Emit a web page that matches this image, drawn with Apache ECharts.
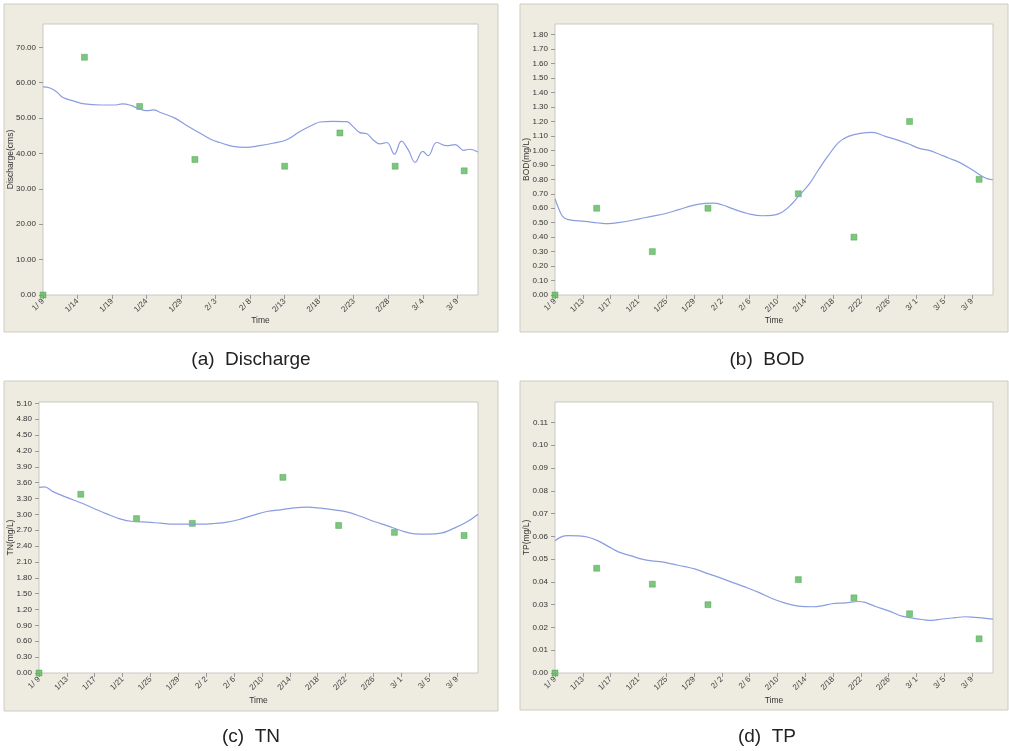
<!DOCTYPE html>
<html>
<head>
<meta charset="utf-8">
<script src="https://cdn.jsdelivr.net/npm/echarts@6/dist/echarts.min.js"></script>
<style>
  html, body { margin: 0; padding: 0; background: #ffffff; }
  #chart { width: 1009px; height: 751px; }
</style>
</head>
<body>
<div id="chart"></div>
<script>
// Observation period starts 9 Jan 2012 (leap year); x values are days since then.
const startDate = [2012, 0, 9];
const dayMax = 63;

// Measured samples (dates and observed values)
const sampleDates = ['2012-01-09', '2012-01-15', '2012-01-23', '2012-01-31', '2012-02-13', '2012-02-21', '2012-02-29', '2012-03-10'];
const obsDischarge = [0.0, 67.2, 53.3, 38.3, 36.4, 45.8, 36.4, 35.1];
const obsBOD = [0.0, 0.60, 0.30, 0.60, 0.70, 0.40, 1.20, 0.80];
const obsTN = [0.0, 3.38, 2.92, 2.83, 3.70, 2.79, 2.66, 2.60];
const obsTP = [0.0, 0.046, 0.039, 0.030, 0.041, 0.033, 0.026, 0.015];

// Simulated series (day offset, value)
const simDischargeDay = [0, 1, 2, 2.9, 4.5, 6, 8.4, 10.3, 11.5, 12.7, 13.7, 15, 16, 17, 19.1, 20.8, 22.7, 24.2, 25.6, 27.5, 29.4, 31.4, 33.3, 35.3, 37.2, 39.1, 40.1, 42, 44, 44.9, 45.9, 46.9, 47.8, 48.8, 49.8, 50.9, 51.9, 52.9, 53.9, 55, 55.8, 57, 58.5, 59.7, 60.9, 61.8, 63];
const simDischarge = [58.8, 58.5, 57.4, 55.8, 54.8, 54.0, 53.7, 53.7, 54.0, 53.6, 52.8, 52.1, 52.3, 51.6, 50.0, 47.9, 45.8, 44.1, 43.1, 42.0, 41.7, 42.2, 42.9, 43.9, 46.2, 48.1, 48.9, 49.1, 49.0, 47.6, 45.9, 45.6, 43.9, 42.7, 43.1, 39.8, 43.5, 41.0, 37.5, 40.6, 39.4, 43.1, 42.2, 42.5, 40.9, 41.2, 40.4];

const simBODDay = [0, 0.5, 1.1, 1.9, 4.3, 6.2, 7.7, 9.1, 12, 13.9, 15.8, 17.8, 19.7, 21.6, 22.8, 24, 25.9, 27.8, 29.8, 31.2, 32.6, 34.1, 35, 36.5, 37.9, 39.4, 40.8, 42.2, 44.2, 45.6, 47.5, 49.4, 50.9, 52.3, 53.8, 55.2, 56.6, 58.1, 60, 61.9, 63];
const simBOD = [0.666, 0.601, 0.544, 0.521, 0.509, 0.498, 0.493, 0.500, 0.525, 0.544, 0.562, 0.590, 0.618, 0.634, 0.636, 0.624, 0.590, 0.562, 0.548, 0.551, 0.571, 0.631, 0.682, 0.763, 0.866, 0.970, 1.055, 1.097, 1.120, 1.124, 1.097, 1.069, 1.044, 1.016, 1.000, 0.975, 0.947, 0.919, 0.866, 0.809, 0.797];

const simTNDay = [0, 0.8, 2, 3.9, 5.9, 7.8, 9.7, 11.6, 13.5, 15.5, 17.4, 19.3, 21.2, 23.1, 25.1, 27, 28.9, 30.8, 32.7, 34.7, 36.6, 38.5, 40.4, 42.3, 44.3, 46.2, 48.1, 50, 51.9, 53.9, 55.8, 57.7, 59.6, 61.5, 63];
const simTN = [3.51, 3.52, 3.43, 3.325, 3.224, 3.117, 3.01, 2.916, 2.865, 2.853, 2.834, 2.815, 2.815, 2.815, 2.827, 2.853, 2.909, 2.985, 3.054, 3.086, 3.123, 3.136, 3.117, 3.086, 3.042, 2.96, 2.865, 2.783, 2.695, 2.632, 2.626, 2.645, 2.739, 2.865, 3.004];

const simTPDay = [0, 1, 1.9, 3.4, 4.8, 6.2, 7.7, 9.1, 11, 12.5, 13.9, 15.4, 16.8, 18.7, 20.2, 22.1, 23.5, 25.4, 27.4, 29.3, 31.2, 33.1, 35, 37, 38.4, 39.8, 41.8, 43.7, 44.6, 46.1, 48, 49.9, 51.4, 52.8, 54.2, 55.7, 57.6, 59, 60.5, 61.9, 63];
const simTP = [0.0581, 0.0599, 0.0603, 0.0602, 0.0596, 0.0580, 0.0555, 0.0532, 0.0514, 0.0500, 0.0492, 0.0488, 0.0479, 0.0467, 0.0456, 0.0435, 0.0421, 0.0399, 0.0377, 0.0354, 0.0327, 0.0307, 0.0294, 0.0291, 0.0295, 0.0304, 0.0308, 0.0314, 0.0310, 0.0292, 0.0273, 0.0250, 0.0241, 0.0235, 0.0231, 0.0237, 0.0243, 0.0247, 0.0244, 0.0240, 0.0237];

// Panel titles and axis names
const captions = ['(a)  Discharge', '(b)  BOD', '(c)  TN', '(d)  TP'];
const yNames = ['Discharge(cms)', 'BOD(mg/L)', 'TN(mg/L)', 'TP(mg/L)'];
const xName = 'Time';

// Axis scales: [max, interval, decimals] and day step for the time axis
const yScales = [[76.6, 10, 2], [1.874, 0.1, 2], [5.125, 0.3, 2], [0.119, 0.01, 2]];
const xSteps = [5, 4, 4, 4];

const t0 = Date.UTC(startDate[0], startDate[1], startDate[2]);
function dayOf(s) {
  const p = s.split('-').map(Number);
  return Math.round((Date.UTC(p[0], p[1] - 1, p[2]) - t0) / 86400000);
}
function dayLabel(d) {
  const dt = new Date(t0 + Math.round(d) * 86400000);
  const m = dt.getUTCMonth() + 1, dd = dt.getUTCDate();
  return m + '/' + (dd < 10 ? ' ' + dd : dd);
}
const zip = (a, b) => a.map((v, i) => [v, b[i]]);

const observed = [obsDischarge, obsBOD, obsTN, obsTP];
const simulated = [zip(simDischargeDay, simDischarge), zip(simBODDay, simBOD), zip(simTNDay, simTN), zip(simTPDay, simTP)];

// Panel geometry: frame box and plotting grid
const frames = [
  { x: 4, y: 4, w: 494, h: 328 },
  { x: 520, y: 4, w: 488, h: 328 },
  { x: 4, y: 381, w: 494, h: 330 },
  { x: 520, y: 381, w: 488, h: 329 }
];
const grids = [
  { left: 43, top: 24, width: 435, height: 271 },
  { left: 555, top: 24, width: 438, height: 271 },
  { left: 39, top: 402, width: 439, height: 271 },
  { left: 555, top: 402, width: 438, height: 271 }
];
const yNameGaps = [28, 24, 24, 24];
const xNameGaps = [21, 21, 23, 23];
const captionPos = [[251, 360], [767, 360], [251, 737], [767, 737]];

const font = 'Liberation Sans, Arial, sans-serif';
const textColor = '#333333';
const lineColor = '#8a9de0';
const pointColor = '#5cb85c';

const option = {
  backgroundColor: '#ffffff',
  animation: false,
  graphic: [
    ...frames.map(f => ({
      type: 'rect', z: -10, silent: true,
      shape: { x: f.x, y: f.y, width: f.w, height: f.h },
      style: { fill: '#eeebe1', stroke: '#cfccc2', lineWidth: 1 }
    })),
    ...captions.map((c, i) => ({
      type: 'text', silent: true,
      x: captionPos[i][0], y: captionPos[i][1],
      style: { text: c, font: '19px ' + font, fill: '#222222', align: 'center', verticalAlign: 'middle' }
    }))
  ],
  grid: grids.map(g => Object.assign({
    show: true, backgroundColor: '#ffffff', borderColor: '#c8c8c2', borderWidth: 1
  }, g)),
  xAxis: grids.map((g, i) => ({
    type: 'value', gridIndex: i, min: 0, max: dayMax, interval: xSteps[i],
    name: xName, nameLocation: 'middle', nameGap: xNameGaps[i], nameMoveOverlap: false,
    nameTextStyle: { fontFamily: font, fontSize: 8.5, color: textColor },
    axisLine: { show: false },
    axisTick: { show: true, length: 4, lineStyle: { color: '#9a9a9a' } },
    splitLine: { show: false },
    axisLabel: {
      rotate: 45, fontFamily: font, fontSize: 8, color: '#444444', margin: 5,
      showMaxLabel: false, formatter: v => dayLabel(v)
    }
  })),
  yAxis: grids.map((g, i) => ({
    type: 'value', gridIndex: i, min: 0, max: yScales[i][0], interval: yScales[i][1],
    name: yNames[i], nameLocation: 'middle', nameRotate: 90, nameGap: yNameGaps[i], nameMoveOverlap: false,
    nameTextStyle: { fontFamily: font, fontSize: 8.5, color: textColor },
    axisLine: { show: false },
    axisTick: { show: true, length: 4, lineStyle: { color: '#9a9a9a' } },
    splitLine: { show: false },
    axisLabel: {
      fontFamily: font, fontSize: 8, color: textColor, margin: 7,
      showMaxLabel: false, formatter: v => v.toFixed(yScales[i][2])
    }
  })),
  series: [
    ...simulated.map((d, i) => ({
      type: 'line', xAxisIndex: i, yAxisIndex: i, data: d,
      smooth: 0.4, showSymbol: false, clip: true,
      lineStyle: { color: lineColor, width: 1.2 }
    })),
    ...observed.map((vals, i) => ({
      type: 'scatter', xAxisIndex: i, yAxisIndex: i,
      data: sampleDates.map((s, k) => [dayOf(s), vals[k]]),
      symbol: 'rect', symbolSize: 6,
      itemStyle: { color: pointColor, borderColor: '#3f9a45', borderWidth: 0.5 }
    }))
  ]
};

const chart = echarts.init(document.getElementById('chart'), null, { renderer: 'canvas' });
chart.setOption(option);
</script>
</body>
</html>
